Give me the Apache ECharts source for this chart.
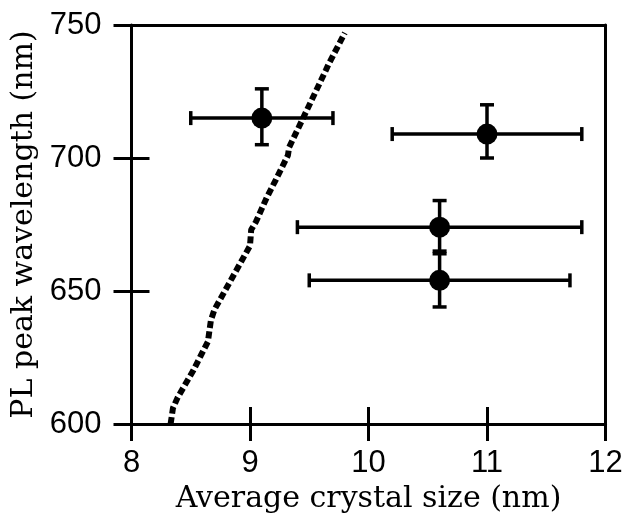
<!DOCTYPE html>
<html>
<head>
<meta charset="utf-8">
<script src="https://cdn.jsdelivr.net/npm/echarts@6/dist/echarts.min.js"></script>
<style>
  html, body { margin: 0; padding: 0; background: #fff; }
  #chart { width: 631px; height: 514px; }
</style>
</head>
<body>
<div id="chart"></div>
<script>
// measured points with error bars
var crystalSize = [9.1, 11.0, 10.6, 10.6];
var peakWavelength = [715, 709, 674, 654];
var sizeLow = [8.5, 10.2, 9.4, 9.5];
var sizeHigh = [9.7, 11.8, 11.8, 11.7];
var waveLow = [705, 700, 664, 644];
var waveHigh = [726, 720, 684, 665];

// dashed reference curve
var curveSize = [8.33, 8.35, 8.39, 8.52, 8.645, 8.67, 8.70, 8.85, 9.00, 9.01, 9.05, 9.14, 9.22, 9.32, 9.33, 9.48, 9.64, 9.66, 9.80];
var curveWave = [600, 606, 610, 620, 631, 639, 643, 655, 667, 673, 676, 685, 692, 701, 704, 718, 733, 735, 747];

var xTicks = [8, 9, 10, 11, 12];
var yTicks = [600, 650, 700, 750];

var pointData = [];
var errData = [];
for (var i = 0; i < crystalSize.length; i++) {
  pointData.push([crystalSize[i], peakWavelength[i]]);
  errData.push([crystalSize[i], peakWavelength[i], sizeLow[i], sizeHigh[i], waveLow[i], waveHigh[i]]);
}
var curveData = [];
for (var j = 0; j < curveSize.length; j++) {
  curveData.push([curveSize[j], curveWave[j]]);
}

var black = "#000";
var lineW = 3;

function renderErr(params, api) {
  var c = api.coord([api.value(0), api.value(1)]);
  var xl = api.coord([api.value(2), api.value(1)]);
  var xh = api.coord([api.value(3), api.value(1)]);
  var yl = api.coord([api.value(0), api.value(4)]);
  var yh = api.coord([api.value(0), api.value(5)]);
  var cap = 7;
  var st = { stroke: black, lineWidth: 3.5 };
  var seg = function (x1, y1, x2, y2) {
    return { type: "line", shape: { x1: x1, y1: y1, x2: x2, y2: y2 }, style: st };
  };
  return {
    type: "group",
    children: [
      seg(xl[0], c[1], xh[0], c[1]),
      seg(xl[0], c[1] - cap, xl[0], c[1] + cap),
      seg(xh[0], c[1] - cap, xh[0], c[1] + cap),
      seg(c[0], yl[1], c[0], yh[1]),
      seg(c[0] - cap, yl[1], c[0] + cap, yl[1]),
      seg(c[0] - cap, yh[1], c[0] + cap, yh[1])
    ]
  };
}

var tickFont = { color: black, fontSize: 31, fontFamily: "Liberation Sans" };
var nameFont = { color: black, fontSize: 30, fontFamily: "DejaVu Serif" };

var option = {
  animation: false,
  backgroundColor: "#fff",
  grid: { left: 131.5, right: 25.5, top: 25, bottom: 90, containLabel: false, outerBoundsMode: "none" },
  xAxis: [
    {
      type: "value", position: "bottom",
      min: xTicks[0], max: xTicks[xTicks.length - 1], interval: 1,
      name: "Average crystal size (nm)", nameLocation: "middle", nameGap: 60,
      nameTextStyle: nameFont,
      axisLine: { lineStyle: { color: black, width: lineW } },
      axisTick: { inside: false, length: 17, lineStyle: { color: black, width: lineW } },
      axisLabel: Object.assign({ margin: 24 }, tickFont),
      splitLine: { show: false }
    },
    {
      // inner half of the crossing ticks
      type: "value", position: "bottom",
      min: xTicks[0], max: xTicks[xTicks.length - 1], interval: 1,
      axisLine: { show: false },
      axisTick: { inside: true, length: 17, lineStyle: { color: black, width: lineW } },
      axisLabel: { show: false },
      splitLine: { show: false }
    },
    {
      type: "value", position: "top",
      min: xTicks[0], max: xTicks[xTicks.length - 1],
      axisLine: { lineStyle: { color: black, width: lineW } },
      axisTick: { show: false }, axisLabel: { show: false }, splitLine: { show: false }
    }
  ],
  yAxis: [
    {
      type: "value", position: "left",
      min: yTicks[0], max: yTicks[yTicks.length - 1], interval: 50,
      name: "PL peak wavelength (nm)", nameLocation: "middle", nameGap: 92,
      nameTextStyle: nameFont,
      axisLine: { lineStyle: { color: black, width: lineW } },
      axisTick: { inside: false, length: 18, lineStyle: { color: black, width: lineW } },
      axisLabel: Object.assign({ margin: 30 }, tickFont),
      splitLine: { show: false }
    },
    {
      type: "value", position: "left",
      min: yTicks[0], max: yTicks[yTicks.length - 1], interval: 50,
      axisLine: { show: false },
      axisTick: { inside: true, length: 18, lineStyle: { color: black, width: lineW } },
      axisLabel: { show: false },
      splitLine: { show: false }
    },
    {
      type: "value", position: "right",
      min: yTicks[0], max: yTicks[yTicks.length - 1],
      axisLine: { lineStyle: { color: black, width: lineW } },
      axisTick: { show: false }, axisLabel: { show: false }, splitLine: { show: false }
    }
  ],
  series: [
    {
      type: "line",
      data: curveData,
      showSymbol: false,
      symbol: "none",
      lineStyle: { color: black, width: 6, type: [7, 3.5], cap: "butt" },
      z: 2
    },
    {
      type: "custom",
      data: errData,
      encode: { x: 0, y: 1 },
      renderItem: renderErr,
      z: 3
    },
    {
      type: "scatter",
      data: pointData,
      symbol: "circle",
      symbolSize: 21,
      itemStyle: { color: black, opacity: 1 },
      z: 4
    }
  ]
};

var myChart = echarts.init(document.getElementById("chart"));
myChart.setOption(option);
</script>
</body>
</html>
